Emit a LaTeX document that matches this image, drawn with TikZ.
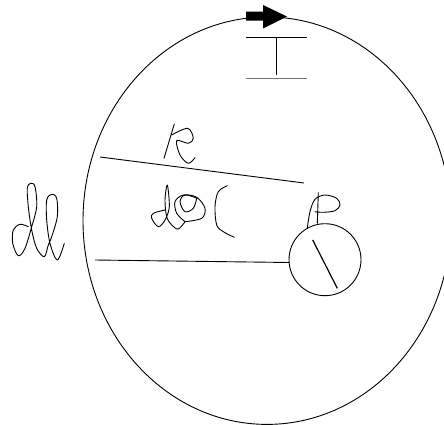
\documentclass[tikz,border=0pt]{standalone}
\tikzset{
  pen/.style={line width=0.9pt,black,line join=round,line cap=round},
  rule/.style={line width=0.9pt,black},
  ink/.style={pen,smooth,tension=0.55}
}
\begin{document}
\begin{tikzpicture}[x=1pt,y=-1pt]
\useasboundingbox (0,0) rectangle (444,425);
\begin{scope}
\clip (0,0) rectangle (444,425);
\draw[rule] (267,220.7) ellipse [x radius=184,y radius=203.7];
\end{scope}
% current arrow
\fill[black] (246,11.7) -- (263,11.7) -- (263,5) -- (287,16.5) -- (263,28.5) -- (263,20.7) -- (246,20.7) -- cycle;
% I
\draw[rule] (246,37.5) -- (307,37.5);
\draw[rule] (276,37.5) -- (276,75);
\draw[rule,black!55] (246,78) -- (307,78);
% R and radial lines
\draw[rule] (100,157) -- (304,183);
\draw[rule] (95,260) -- (289,262.5);
\draw[pen] (174.3,124) -- (164,158.3);
\draw[ink] plot coordinates {(171.7,135) (187.7,128.3) (193.3,138.3) (188.3,143.3) (176.7,140.7) (180,155) (188.3,163.3) (195,157.7)};
% d l
\draw[ink] plot coordinates {(28.3,226.7) (20,224.3) (13.3,230) (12.7,243.3) (18.3,255.7) (25,248.3) (31.7,226.7) (36.7,206.7) (35,186.7) (30.7,183.3) (27.3,188.3) (28.3,206.7) (31.7,230) (36.7,248.3) (44.3,256.7) (48.3,245) (51.7,236.7) (57.3,216.7) (56.7,198.3) (51.7,194.3) (46.7,200) (46.7,220) (50,243.3) (57.3,260) (64.3,243.3)};
% d o
\draw[ink] plot coordinates {(165,210) (153.3,213.3) (151.7,218.3) (158.3,226.7) (165,220) (169.3,206.7) (167.3,185) (165,200) (166.7,216.7) (171.7,225) (178.3,229) (185,221.7)};
\draw[ink] plot coordinates {(185,221.7) (176.7,213.3) (175,201.7) (183.3,195) (196.7,197.3) (205,208.3) (201.7,218.3) (185,221.7)};
\draw[ink] plot coordinates {(197.3,198.3) (185,195) (180,201.7) (185,211.7) (193.3,208.3) (196.7,198.3)};
% paren
\draw[ink] plot coordinates {(227.3,185.7) (218.3,191.7) (215,206.7) (216.7,225) (223.3,231.7) (234.3,237.3)};
% P
\draw[ink] plot coordinates {(307.3,228.3) (310,211.7) (315,199.3) (325,195) (336.7,198.3) (340,205) (335,210.7) (323.3,212.3) (315,211.7)};
\draw[pen] (318.3,192.7) -- (317.3,223.3);
% galvanometer
\node[draw,circle,line width=0.9pt,minimum size=72pt,inner sep=0pt] (g) at (325,259.7) {};
\coordinate (na) at (312.7,240);
\coordinate (nb) at (337.3,288.3);
\draw[line width=1.2pt] (na) -- (nb);
\end{tikzpicture}
\end{document}
